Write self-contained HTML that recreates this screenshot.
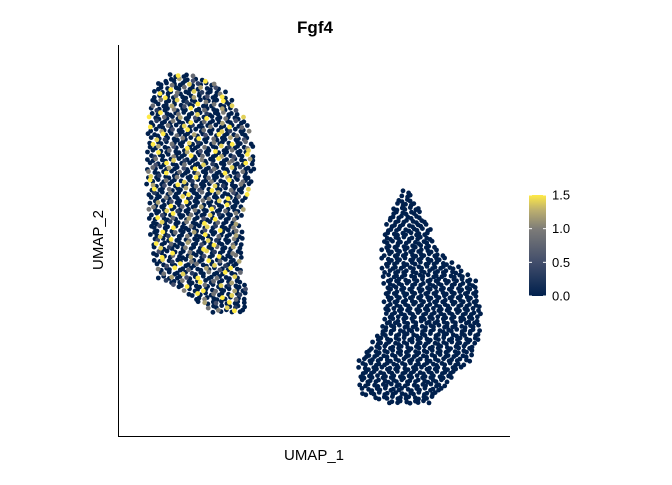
<!DOCTYPE html>
<html><head><meta charset="utf-8">
<style>
body{margin:0;background:#fff;font-family:"Liberation Sans",sans-serif;}
svg text{font-family:"Liberation Sans",sans-serif;}
</style></head>
<body>
<svg id="chart" width="672" height="480">
  <defs>
    <linearGradient id="cbar" x1="0" y1="1" x2="0" y2="0">
      <stop offset="0" stop-color="#00204D"/>
      <stop offset="0.33" stop-color="#414D6B"/>
      <stop offset="0.66" stop-color="#7C7B78"/>
      <stop offset="0.85" stop-color="#BCAF6F"/>
      <stop offset="1" stop-color="#FFEA46"/>
    </linearGradient>
  </defs>
  <text x="315" y="33" text-anchor="middle" font-size="17" font-weight="bold" fill="#000">Fgf4</text>
  <g id="points"></g>
  <line x1="118.5" y1="45" x2="118.5" y2="436" stroke="#000" stroke-width="1"/>
  <line x1="118" y1="436.5" x2="510" y2="436.5" stroke="#000" stroke-width="1"/>
  <text x="314" y="460" text-anchor="middle" font-size="15" fill="#000">UMAP_1</text>
  <text transform="translate(103,240) rotate(-90)" text-anchor="middle" font-size="15" fill="#000">UMAP_2</text>
  <g>
    <rect x="529" y="195" width="17" height="101" fill="url(#cbar)"/>
    <g id="legendTicks"></g>
  </g>
</svg>
<script>
// cluster outlines in UMAP data units: row y, left x, right x
const cluster1Y  = [92.1,89.8,85.9,80.8,75.7,70.6,65.5,60.4,55.2,50.1,45.0,39.9,37.3,34.8,30.9];
const cluster1X0 = [13.3,9.9,8.7,8.2,7.9,7.7,7.4,8.2,8.2,8.7,9.4,10.7,16.6,19.6,26.0];
const cluster1X1 = [19.6,25.8,29.1,32.4,34.2,34.9,34.2,32.6,31.1,32.4,31.1,31.9,32.9,32.9,32.9];
const cluster2Y  = [62.4,57.8,52.7,47.6,42.5,39.9,34.8,29.7,24.6,19.4,14.3,10.5,7.9];
const cluster2X0 = [72.7,69.9,68.1,67.6,67.6,68.1,68.1,68.1,65.6,61.7,61.7,62.2,71.9];
const cluster2X1 = [74.5,77.0,80.1,81.1,87.8,91.1,92.3,92.3,92.3,89.8,84.7,82.1,78.3];
// expression values cycled over cluster-1 cells (odd length to avoid stripes)
const exprPattern = [0,0,1.5,0,0,0.8,0,0,0,1.2,0,0,0.5,0,0,1.5,0,0,0,0.9,0,0,0,1.4,0,0.3,0,0,0,1.0,0];
const cluster2Expr = [0];
const legendTicks = [0.0,0.5,1.0,1.5];

const X = d => 118 + d*3.92;
const Y = d => 436 - d*3.91;
const cbY = v => 296 - v/1.5*101;
const NS = "http://www.w3.org/2000/svg";
function colorOf(v){
  const t = Math.max(0,Math.min(1,v/1.5));
  const stops=[[0,[0,32,77]],[0.33,[65,77,107]],[0.66,[124,123,120]],[0.85,[188,175,111]],[1,[255,234,70]]];
  for(let i=1;i<stops.length;i++){
    if(t<=stops[i][0]){
      const a=stops[i-1],b=stops[i],f=(t-a[0])/(b[0]-a[0]);
      const c=a[1].map((x,k)=>Math.round(x+(b[1][k]-x)*f));
      return `rgb(${c[0]},${c[1]},${c[2]})`;
    }
  }
  return "rgb(255,234,70)";
}
const g = document.getElementById('points');
const jit = [0,1.3,-0.9,0.6,-1.4,1.0,-0.3,0.8,-1.1];
function fill(ys,x0s,x1s,expr,name){
  let idx=0,row=0;
  const pts=[];
  for(let py=Y(ys[0]); py<=Y(ys[ys.length-1]); py+=4.2,row++){
    const yd=(436-py)/3.91;
    let k=0; while(k<ys.length-2 && yd<ys[k+1]) k++;
    const f=(ys[k]-yd)/(ys[k]-ys[k+1]);
    const a=X(x0s[k]+(x0s[k+1]-x0s[k])*f), b=X(x1s[k]+(x1s[k+1]-x1s[k])*f);
    for(let px=a+(row%2)*2.2; px<=b; px+=4.4){
      const v=expr[idx%expr.length];
      pts.push([px+jit[idx%9]*0.9, py+jit[(idx+4)%9]*0.9, v]);
      idx++;
    }
  }
  pts.sort((p,q)=>p[2]-q[2]);
  pts.forEach(p=>{
    const c=document.createElementNS(NS,'circle');
    c.setAttribute('cx',p[0].toFixed(1));c.setAttribute('cy',p[1].toFixed(1));
    c.setAttribute('r','2.4');c.setAttribute('fill',colorOf(p[2]));
    
    
    g.appendChild(c);
  });
}
fill(cluster1Y,cluster1X0,cluster1X1,exprPattern,'cell-point-cluster1');
fill(cluster2Y,cluster2X0,cluster2X1,cluster2Expr,'cell-point-cluster2');
const lt=document.getElementById('legendTicks');
legendTicks.forEach(v=>{
  const y=cbY(v);
  [[529,532],[543,546]].forEach(s=>{
    const l=document.createElementNS(NS,'line');
    l.setAttribute('x1',s[0]);l.setAttribute('x2',s[1]);l.setAttribute('y1',y);l.setAttribute('y2',y);
    l.setAttribute('stroke','#fff');
    
    
    lt.appendChild(l);
  });
  const t=document.createElementNS(NS,'text');
  t.setAttribute('x',552);t.setAttribute('y',y+4.5);t.setAttribute('font-size','13');
  t.textContent=v.toFixed(1);
  
  
  lt.appendChild(t);
});
</script>
</body></html>
